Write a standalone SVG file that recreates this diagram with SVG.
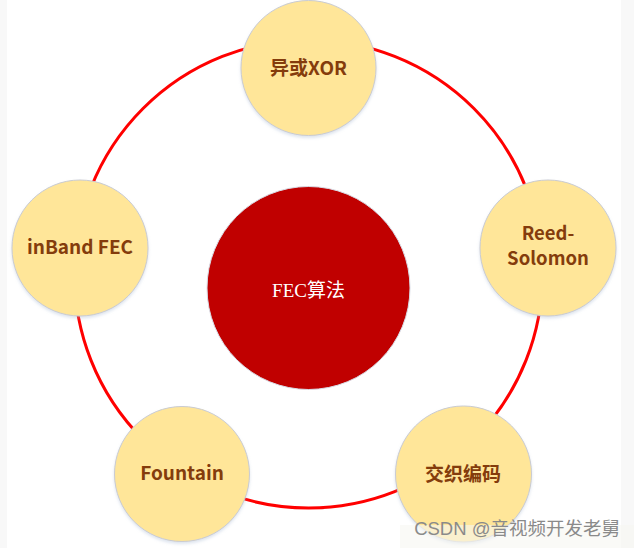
<svg xmlns="http://www.w3.org/2000/svg" width="634" height="548" viewBox="0 0 634 548">
<defs>
<filter id="sh" x="-10%" y="-10%" width="120%" height="125%">
<feDropShadow dx="0" dy="2" stdDeviation="1.5" flood-color="#9fb4d0" flood-opacity="0.35"/>
</filter>
<style>
.node{fill:#FFE699;stroke:#c9cbd2;stroke-width:1;filter:url(#sh);}
.lbl{font-family:"Noto Sans CJK SC","Open Sans",sans-serif;font-weight:bold;font-size:19px;fill:#843C0C;text-anchor:middle;}
.ring{fill:none;stroke:#FF0000;stroke-width:3;}
</style>
</defs>
<rect x="0" y="0" width="634" height="548" fill="#ffffff"/>
<rect x="0" y="0" width="7" height="548" fill="#f8f8f8"/>
<rect x="621" y="0" width="13" height="548" fill="#f8f8f8"/>
<g id="connectors">
<circle class="ring" cx="308.5" cy="274" r="234"/>
</g>
<g id="center">
<circle cx="308.5" cy="288" r="101.5" fill="#C00000" stroke="#d8dce6" stroke-width="1"/>
<text x="308.5" y="297" font-family="'Liberation Serif','Noto Sans CJK SC',serif" font-size="19" fill="#ffffff" text-anchor="middle">FEC算法</text>
</g>
<g id="node-xor">
<circle class="node" cx="308.5" cy="68" r="67.5"/>
<text class="lbl" x="308.5" y="75">异或XOR</text>
</g>
<g id="node-rs">
<circle class="node" cx="548" cy="248" r="68"/>
<text class="lbl" x="548" y="240" style="font-size:18.5px">Reed-</text>
<text class="lbl" x="548" y="265" style="font-size:18.5px">Solomon</text>
</g>
<g id="node-interleave">
<circle class="node" cx="463.5" cy="474" r="68"/>
<text class="lbl" x="463" y="481">交织编码</text>
</g>
<g id="node-fountain">
<circle class="node" cx="182" cy="474" r="67.5"/>
<text class="lbl" x="182" y="480">Fountain</text>
</g>
<g id="node-inband">
<circle class="node" cx="80" cy="248" r="68"/>
<text class="lbl" x="80" y="254">inBand FEC</text>
</g>
<g id="watermark">
<rect x="400" y="525" width="234" height="23" fill="#f6f6f2" opacity="0.6"/>
<text x="620" y="535" font-family="'Liberation Sans','Noto Sans CJK SC',sans-serif" font-size="18.5" fill="#8a8a8a" text-anchor="end">CSDN @音视频开发老舅</text>
</g>
</svg>
